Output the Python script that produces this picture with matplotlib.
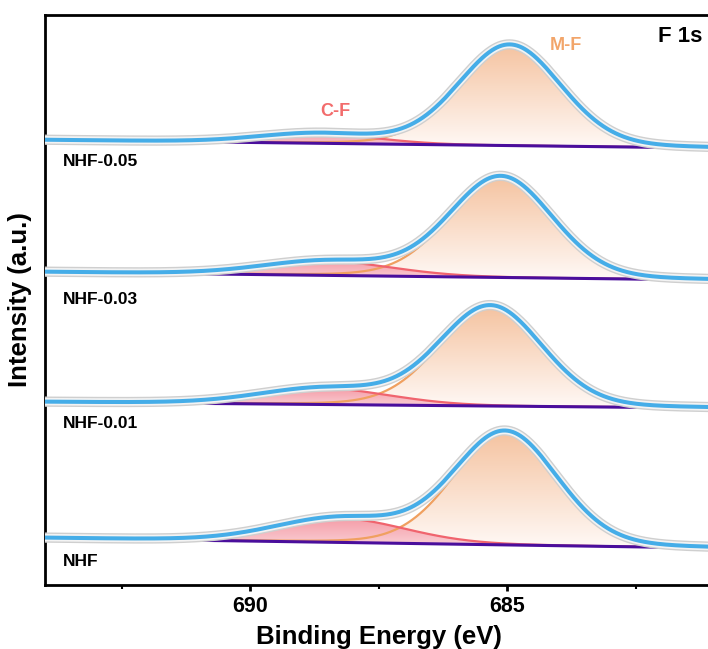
import numpy as np
import matplotlib.pyplot as plt
from matplotlib.colors import LinearSegmentedColormap

plt.rcParams['font.family'] = ['Liberation Sans', 'DejaVu Sans']
plt.rcParams['font.weight'] = 'bold'

# fitted F 1s parameters (y in arbitrary units, stacked)
samples = ['NHF-0.05', 'NHF-0.03', 'NHF-0.01', 'NHF']
base_left = [445, 313, 183, 47]     # baseline at 694 eV
base_right = [437, 305, 177, 37]    # baseline at 681 eV
mf_center = [684.95, 685.12, 685.32, 685.03]
mf_height = [101, 101, 100, 113]
mf_fwhm = [2.35, 2.37, 2.37, 2.38]
cf_center = [688.7, 688.5, 688.55, 688.25]
cf_height = [9.5, 14, 16, 24]
cf_fwhm = [2.7, 3.0, 3.0, 3.0]
label_y = [424, 285, 161, 23]
lor_frac = 0.12

blue = '#45ADE8'
purple = '#4A0E9C'
orange = '#F0A060'
red = '#F0646E'


def peak(x, c, h, w):
    g = np.exp(-4 * np.log(2) * ((x - c) / w) ** 2)
    l = 1 / (1 + 4 * ((x - c) / w) ** 2)
    return h * ((1 - lor_frac) * g + lor_frac * l)


def grad_fill(ax, x, y0, y1, c_top, c_bot, z):
    poly = ax.fill_between(x, y0, y1, color='none', lw=0)
    cmap = LinearSegmentedColormap.from_list('g', [c_bot, c_top])
    grad = np.linspace(0, 1, 256).reshape(-1, 1)
    im = ax.imshow(grad, cmap=cmap, aspect='auto', origin='lower',
                   extent=[x.max(), x.min(), y0.min(), y1.max()], zorder=z)
    im.set_clip_path(poly.get_paths()[0], transform=ax.transData)


fig = plt.figure(figsize=(7.08, 6.49), dpi=100)
ax = fig.add_axes([45 / 708, 64 / 649, 667.6 / 708, 570 / 649])

x = np.linspace(681, 694, 800)
for i in range(4):
    base = base_right[i] + (base_left[i] - base_right[i]) * (x - 681) / 13
    mf = peak(x, mf_center[i], mf_height[i], mf_fwhm[i])
    cf = peak(x, cf_center[i], cf_height[i], cf_fwhm[i])
    env = base + mf + cf

    grad_fill(ax, x, base, base + mf, '#F5C3A0', '#FFF9F6', 1)
    grad_fill(ax, x, base, base + cf, '#F59CA7', '#FAD4D9', 1.5)
    ax.plot(x, base + mf, color=orange, lw=1.6, zorder=2)
    ax.plot(x, base + cf, color=red, lw=1.6, zorder=2)
    ax.plot(x, base, color=purple, lw=2.2, zorder=3)
    ax.plot(x, env, color='#cfcfcf', lw=7.4, zorder=4, solid_capstyle='butt')
    ax.plot(x, env, color='#f3f3f3', lw=5.4, zorder=4, solid_capstyle='butt')
    ax.plot(x, env, color=blue, lw=2.9, zorder=5)

    ax.text(693.66, label_y[i], samples[i], fontsize=12.5, fontweight='bold',
            ha='left', va='center')

ax.text(688.35, 473, 'C-F', color='#F26C6C', fontsize=13, fontweight='bold',
        ha='center', va='center')
ax.text(683.85, 539, 'M-F', color='#F2A56A', fontsize=13, fontweight='bold',
        ha='center', va='center')
ax.text(681.63, 549, 'F 1s', color='black', fontsize=16, fontweight='bold',
        ha='center', va='center')

ax.set_xlim(694, 681)
ax.set_ylim(0, 570)
ax.set_xticks([690, 685])
ax.set_xticks([692.5, 687.5, 682.5], minor=True)
ax.set_yticks([])
ax.tick_params(axis='x', which='major', length=4, width=2, labelsize=15.5, pad=4)
ax.tick_params(axis='x', which='minor', length=3, width=1.5)
for lab in ax.get_xticklabels():
    lab.set_fontweight('bold')
for s in ax.spines.values():
    s.set_linewidth(2.0)
ax.spines['right'].set_visible(False)

ax.set_xlabel('Binding Energy (eV)', fontsize=18.5, fontweight='bold', labelpad=6)
ax.set_ylabel('Intensity (a.u.)', fontsize=18.5, fontweight='bold', labelpad=9)

fig.savefig('out.png', dpi=100)
